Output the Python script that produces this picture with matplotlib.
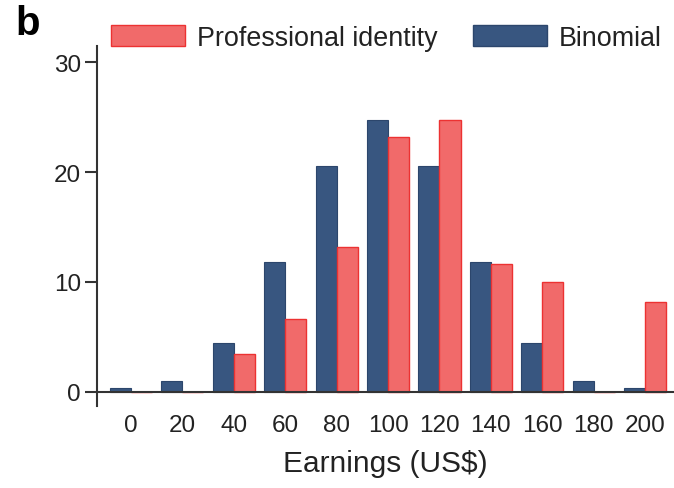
import numpy as np
import matplotlib
matplotlib.use("Agg")
import matplotlib.pyplot as plt
from matplotlib.patches import Patch

plt.rcParams["font.family"] = ["Liberation Sans", "DejaVu Sans"]

earnings = [0, 20, 40, 60, 80, 100, 120, 140, 160, 180, 200]
binomial = [0.3, 1.0, 4.4, 11.8, 20.6, 24.8, 20.6, 11.8, 4.4, 1.0, 0.3]
professional = [0, 0, 3.4, 6.6, 13.2, 23.2, 24.8, 11.6, 10.0, 0, 8.2]

BLUE = "#385680"
BLUE_EDGE = "#2c466c"
RED = "#f16a6a"
RED_EDGE = "#ec3232"
AXIS = "#333333"

fig = plt.figure(figsize=(6.74, 4.89), dpi=100)
ax = fig.add_axes([97 / 674, 82 / 489, 577 / 674, 360 / 489])

x = np.arange(len(earnings))
w = 0.41
ax.bar(x - w / 2, binomial, w, color=BLUE, edgecolor=BLUE_EDGE, linewidth=0.8, zorder=2)
ax.bar(x + w / 2, professional, w, color=RED, edgecolor=RED_EDGE, linewidth=1.0, zorder=2)

ax.axhline(0, color=AXIS, linewidth=1.5, zorder=3)

ax.set_xlim(-0.66, 10.56)
ax.set_ylim(-1.3, 31.5)
ax.set_yticks([0, 10, 20, 30])
ax.set_xticks(x)
ax.set_xticklabels([str(e) for e in earnings])

for side in ["top", "right", "bottom"]:
    ax.spines[side].set_visible(False)
ax.spines["left"].set_color(AXIS)
ax.spines["left"].set_linewidth(1.5)

ax.tick_params(axis="y", direction="out", length=8.6, width=1.5, color=AXIS,
               labelsize=17.5, pad=3, labelcolor="#222222")
ax.tick_params(axis="x", length=0, labelsize=17.5, pad=6, labelcolor="#222222")

ax.set_xlabel("Earnings (US$)", fontsize=21.5, color="#222222", labelpad=9)

handles = [Patch(facecolor=RED, edgecolor=RED_EDGE, label="Professional identity"),
           Patch(facecolor=BLUE, edgecolor=BLUE_EDGE, label="Binomial")]
fig.legend(handles=handles, loc="center left", bbox_to_anchor=(111 / 674, 1 - 39 / 489),
           ncol=2, frameon=False, fontsize=19.4, handlelength=2.75, handleheight=0.8,
           handletextpad=0.45, columnspacing=1.3, borderpad=0, borderaxespad=0,
           labelcolor="#222222")

fig.text(15 / 674, 1 - 24 / 489, "b", fontsize=29, fontweight="bold", va="center", ha="left")

fig.savefig("out.png", dpi=100)
